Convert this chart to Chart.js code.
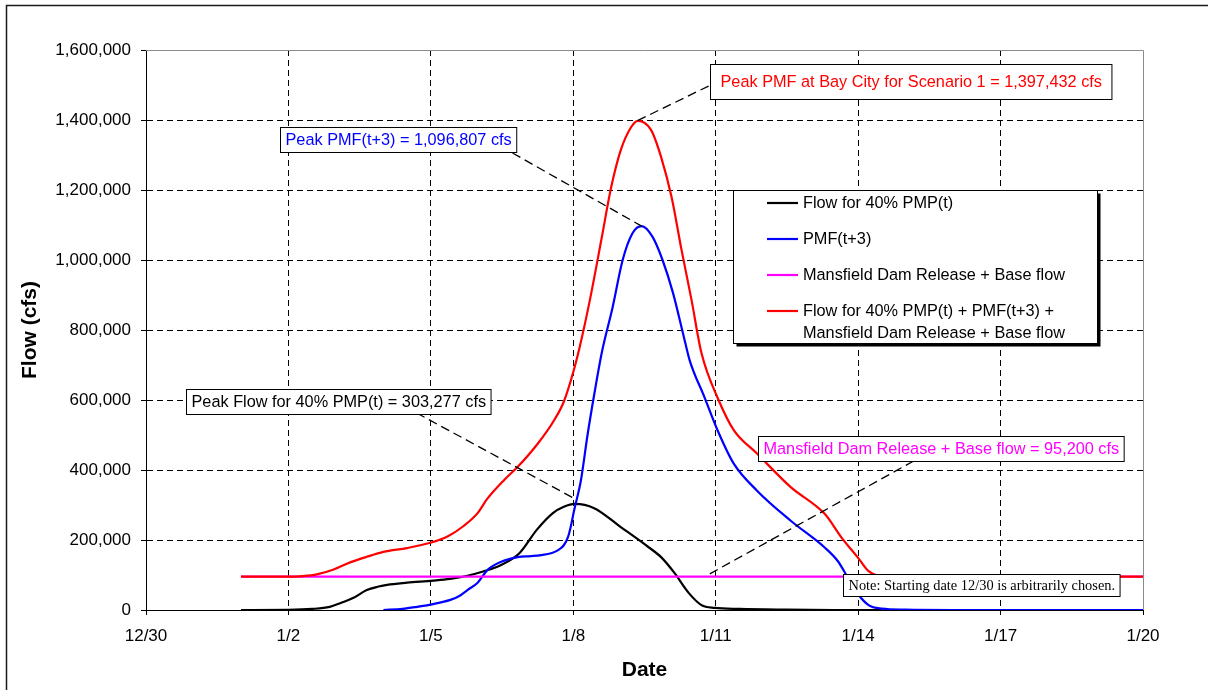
<!DOCTYPE html>
<html><head><meta charset="utf-8">
<script src="https://cdn.jsdelivr.net/npm/chart.js@4.4.1/dist/chart.umd.min.js"></script>
<style>html,body{margin:0;padding:0;background:#fff;}canvas{display:block;}</style>
</head><body>
<canvas id="c" width="1208" height="690"></canvas>
<script>
// ---------- data ----------
const xTickLabels = ['12/30','1/2','1/5','1/8','1/11','1/14','1/17','1/20']; // day 0,3,...,21
const seriesNames = ['Flow for 40% PMP(t)','PMF(t+3)','Mansfield Dam Release + Base flow',
  'Flow for 40% PMP(t) + PMF(t+3) + Mansfield Dam Release + Base flow'];
const seriesColors = ['#000000','#0000FF','#FF00FF','#FF0000'];

// days since 12/30, flow in cfs
const blackDays = [2.0,3.0,3.5,3.87,4.1,4.36,4.65,4.9,5.08,5.5,6.05,6.4,6.77,7.1,7.47,7.87,8.23,8.57,8.8,9.03,9.44,10.0,10.58,10.85,11.13,11.43,11.7,11.98,12.5,13.5,14.5,15.5];
const blackFlow = [0,500,3000,9000,20000,34000,57000,67000,72000,78000,84000,89000,98000,110000,128000,163000,229000,277000,295000,303277,291000,237000,180000,151000,106000,49000,14000,6000,3000,1000,0,0];

const blueDays = [5.0,5.4,5.71,6.05,6.41,6.6,6.77,6.98,7.19,7.47,7.83,8.1,8.32,8.55,8.68,8.8,8.89,8.95,9.01,9.16,9.3,9.44,9.6,9.83,10.04,10.25,10.44,10.67,10.88,11.1,11.31,11.45,11.76,12.05,12.38,12.87,13.58,14.3,14.57,14.79,15.0,15.22,15.5,16.0,17.0,21.0];
const blueFlow = [0,3000,9000,17000,29000,40000,57000,77000,114000,137000,151000,154000,157000,163000,171000,185000,209000,240000,280000,370000,500000,615000,735000,866000,1000000,1077000,1096807,1066000,1000000,906000,791000,714000,609000,510000,418000,341000,255000,178000,140000,91000,45000,14000,4000,1000,0,0];

const magentaDays = [2.0,21.0];
const magentaFlow = [95200,95200];

const redDays = [2.0,3.0,3.3,3.6,3.94,4.3,4.65,5.0,5.5,5.99,6.35,6.69,6.98,7.19,7.54,7.83,8.25,8.6,8.8,9.0,9.15,9.35,9.59,9.8,10.0,10.22,10.36,10.64,10.85,11.07,11.28,11.49,11.7,12.06,12.38,12.87,13.58,14.3,14.65,15.0,15.22,15.5,16.0,21.0];
const redFlow = [95200,95200,97000,102000,115000,136000,152000,166000,177000,192000,210000,240000,276000,318000,371000,409000,475000,543000,595000,680000,760000,886000,1057000,1209000,1314000,1380000,1397432,1371000,1294000,1180000,1029000,886000,734000,600000,514000,447000,351000,274000,207000,149000,111000,97000,95200,95200];

const annotations = [
  {text:'Peak PMF at Bay City for Scenario 1 = 1,397,432 cfs', color:'#FF0000', day:16.11, flow:1509700, padX:10, h:35, serif:false,
   from:[11.85,1497000], to:[10.34,1397432]},
  {text:'Peak PMF(t+3) = 1,096,807 cfs', color:'#0000FF', day:5.32, flow:1342900, padX:5, h:25, serif:false,
   from:[7.72,1305700], to:[10.44,1096807]},
  {text:'Peak Flow for 40% PMP(t) = 303,277 cfs', color:'#000000', day:4.056, flow:597100, padX:5, h:25, serif:false,
   from:[5.70,562900], to:[9.03,318000]},
  {text:'Mansfield Dam Release + Base flow = 95,200 cfs', color:'#FF00FF', day:16.74, flow:461400, padX:5, h:25, serif:false,
   from:[16.17,425700], to:[11.87,102900]},
  {text:'Note: Starting date 12/30 is arbitrarily chosen.', color:'#000000', day:17.59, flow:71400, padX:5, h:22, serif:true,
   from:null, to:null}
];

// ---------- chart ----------
const SANS = "'Liberation Sans', Arial, sans-serif";
const SERIF = "'Liberation Serif', 'Times New Roman', serif";
function pts(xs, ys){ return xs.map((d,i)=>({x:d,y:ys[i]})); }
const dataSets = [[blackDays,blackFlow],[blueDays,blueFlow],[magentaDays,magentaFlow],[redDays,redFlow]];
const layerOrder = [3,2,1,0];

const decorPlugin = {
  id:'decor',
  beforeDraw(chart){
    const c = chart.ctx; c.save(); c.fillStyle='#fff'; c.fillRect(0,0,chart.width,chart.height); c.restore();
  },
  beforeDatasetsDraw(chart){
    const c = chart.ctx, ca = chart.chartArea;
    c.save();
    c.strokeStyle='#8c8c8c'; c.lineWidth=1;
    const t = Math.round(ca.top)+0.5, r = Math.round(ca.right)+0.5;
    c.beginPath(); c.moveTo(ca.left, t); c.lineTo(r, t); c.lineTo(r, ca.bottom); c.stroke();
    c.restore();
  },
  afterDraw(chart){
    const c = chart.ctx, xs = chart.scales.x, ys = chart.scales.y;
    c.save();
    // outer frame (left & top visible)
    c.strokeStyle='#1a1a1a'; c.lineWidth=1.5;
    c.beginPath(); c.moveTo(6.5, 700); c.lineTo(6.5, 5.5); c.lineTo(1210, 5.5); c.stroke();
    // leader lines
    c.strokeStyle='#000'; c.lineWidth=1.3; c.setLineDash([9,5]);
    annotations.forEach(a=>{
      if(!a.from) return;
      c.beginPath();
      c.moveTo(xs.getPixelForValue(a.from[0]), ys.getPixelForValue(a.from[1]));
      c.lineTo(xs.getPixelForValue(a.to[0]), ys.getPixelForValue(a.to[1]));
      c.stroke();
    });
    c.setLineDash([]);
    // annotation boxes
    annotations.forEach(a=>{
      c.font = a.serif ? ('14.4px ' + SERIF) : ('16.3px ' + SANS);
      const w = c.measureText(a.text).width + 2*a.padX;
      const cx = xs.getPixelForValue(a.day), cy = ys.getPixelForValue(a.flow);
      const x = Math.round(cx - w/2) + 0.5, y = Math.round(cy - a.h/2) + 0.5;
      c.fillStyle='#fff'; c.fillRect(x, y, w, a.h);
      c.strokeStyle='#000'; c.lineWidth=1; c.strokeRect(x, y, w, a.h);
      c.fillStyle=a.color; c.textAlign='left'; c.textBaseline='middle';
      c.fillText(a.text, x + a.padX, y + a.h/2 + 1);
    });
    // legend
    const lg = {x:733.5, y:190.5, w:364, h:153};
    c.fillStyle='#000'; c.fillRect(lg.x+3, lg.y+3, lg.w, lg.h);
    c.fillStyle='#fff'; c.fillRect(lg.x, lg.y, lg.w, lg.h);
    c.strokeStyle='#000'; c.lineWidth=1; c.strokeRect(lg.x, lg.y, lg.w, lg.h);
    c.font = '16.3px ' + SANS; c.textAlign='left'; c.textBaseline='middle';
    chart.data.datasets.forEach((ds,i)=>{
      const rowY = 203 + i*36;
      c.strokeStyle = ds.borderColor; c.lineWidth = 2.2;
      c.beginPath(); c.moveTo(767, rowY); c.lineTo(798, rowY); c.stroke();
      // wrap text
      const words = ds.label.split(' '); const lines = []; let cur = '';
      words.forEach(wd=>{ const tst = cur ? cur + ' ' + wd : wd;
        if (c.measureText(tst).width > 290 && cur) { lines.push(cur); cur = wd; } else cur = tst; });
      lines.push(cur);
      c.fillStyle = '#000';
      lines.forEach((ln,k)=> c.fillText(ln, 803, rowY + 1 + k*22));
    });
    c.restore();
  }
};

new Chart(document.getElementById('c'), {
  type:'line',
  data:{
    datasets: dataSets.map((d,i)=>({
      label: seriesNames[i], data: pts(d[0], d[1]),
      borderColor: seriesColors[i], backgroundColor: seriesColors[i],
      borderWidth: 2.2, pointRadius: 0, fill:false,
      cubicInterpolationMode:'monotone', order: layerOrder[i]
    }))
  },
  options:{
    responsive:false, animation:false, devicePixelRatio:1,
    layout:{padding:{left:0, right:65, top:50, bottom:0}},
    plugins:{legend:{display:false}, tooltip:{enabled:false}},
    scales:{
      x:{
        type:'linear', min:0, max:21,
        afterFit(s){ s.height = 80; },
        ticks:{stepSize:3, padding:11, color:'#000', font:{family:SANS, size:17},
          callback:(v)=> xTickLabels[Math.round(v/3)], maxRotation:0, autoSkip:false},
        grid:{color:(ctx)=> (ctx.tick && ctx.tick.value===21) ? 'rgba(0,0,0,0)' : '#000',
          lineWidth:1, tickLength:5, tickColor:'#000', drawTicks:true},
        border:{display:true, color:'#000', width:1, dash:[6,4]},
        title:{display:true, text:'Date', color:'#000', font:{family:SANS, size:21, weight:'bold'}, padding:{top:0,bottom:7}}
      },
      y:{
        type:'linear', min:0, max:1600000,
        afterFit(s){ s.width = 146; },
        ticks:{stepSize:200000, padding:10, color:'#000', font:{family:SANS, size:17},
          callback:(v)=> v.toLocaleString('en-US')},
        grid:{color:(ctx)=> (ctx.tick && ctx.tick.value===1600000) ? 'rgba(0,0,0,0)' : '#000',
          lineWidth:1, tickLength:5, tickColor:'#000', drawTicks:true},
        border:{display:true, color:'#000', width:1, dash:[6,4]},
        title:{display:true, text:'Flow (cfs)', color:'#000', font:{family:SANS, size:21, weight:'bold'}, padding:{top:18,bottom:0}}
      }
    }
  },
  plugins:[decorPlugin]
});
</script>
</body></html>
